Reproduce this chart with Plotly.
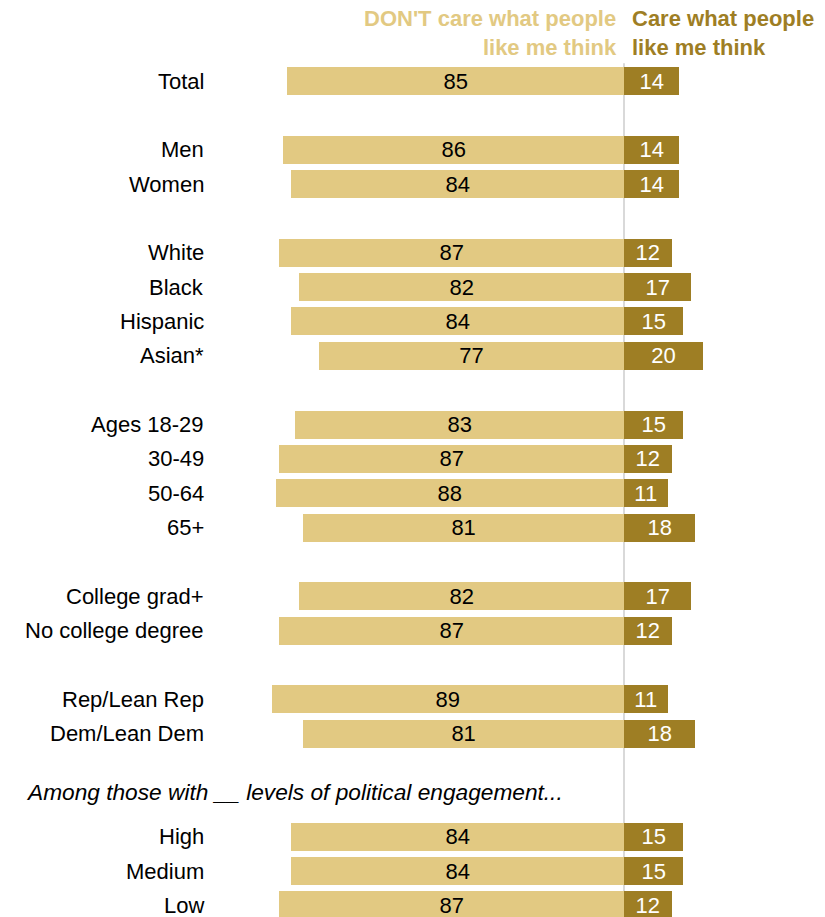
import plotly.graph_objects as go

categories = ["Total", "Men", "Women", "White", "Black", "Hispanic", "Asian*",
              "Ages 18-29", "30-49", "50-64", "65+", "College grad+", "No college degree",
              "Rep/Lean Rep", "Dem/Lean Dem", "High", "Medium", "Low"]
slots = [0, 2, 3, 5, 6, 7, 8, 10, 11, 12, 13, 15, 16, 18, 19, 22, 23, 24]
dont_care = [85, 86, 84, 87, 82, 84, 77, 83, 87, 88, 81, 82, 87, 89, 81, 84, 84, 87]
care = [14, 14, 14, 12, 17, 15, 20, 15, 12, 11, 18, 17, 12, 11, 18, 15, 15, 12]
section_note = "Among those with __ levels of political engagement..."
note_slot = 20.7
header_left = "DON'T care what people<br>like me think"
header_right = "Care what people<br>like me think"

LIGHT = "#E2C982"
DARK = "#9E7E24"
FONT = "Liberation Sans, Arial, sans-serif"
FS = 22
W, H = 825, 917
center_px = 624
px_per_unit = 3.96
row_px = 34.35
top_px = 81

fig = go.Figure()
fig.add_trace(go.Bar(
    y=slots, x=[-v for v in dont_care], orientation="h", width=0.815,
    marker=dict(color=LIGHT, line=dict(width=0)),
    text=[str(v) for v in dont_care], textposition="inside", insidetextanchor="middle",
    textangle=0, constraintext="none",
    textfont=dict(color="black", size=FS, family=FONT), hoverinfo="skip"))
fig.add_trace(go.Bar(
    y=slots, x=care, orientation="h", width=0.815,
    marker=dict(color=DARK, line=dict(width=0)),
    text=[str(v) for v in care], textposition="inside", insidetextanchor="middle",
    textangle=0, constraintext="none",
    textfont=dict(color="white", size=FS, family=FONT), hoverinfo="skip"))

xr = [-center_px / px_per_unit, (W - center_px) / px_per_unit]
yr = [(H - top_px) / row_px, -top_px / row_px]

fig.add_shape(type="line", x0=0, x1=0, y0=-0.52, y1=yr[0], xref="x", yref="y",
              line=dict(color="#CCCCCC", width=1.5), layer="below")

for c, s in zip(categories, slots):
    fig.add_annotation(x=206 / W, y=s, xref="paper", yref="y", text=c, showarrow=False,
                       xanchor="right", yanchor="middle",
                       font=dict(size=FS, color="black", family=FONT))

fig.add_annotation(x=24 / W, y=note_slot, xref="paper", yref="y", text="<i>" + section_note + "</i>",
                   showarrow=False, xanchor="left", yanchor="middle",
                   font=dict(size=22.7, color="black", family=FONT))

fig.add_annotation(x=619 / W, y=-1.39, xref="paper", yref="y", text="<b>" + header_left + "</b>",
                   showarrow=False, xanchor="right", yanchor="middle", align="right",
                   font=dict(size=FS, color=LIGHT, family=FONT))
fig.add_annotation(x=630 / W, y=-1.39, xref="paper", yref="y", text="<b>" + header_right + "</b>",
                   showarrow=False, xanchor="left", yanchor="middle", align="left",
                   font=dict(size=FS, color=DARK, family=FONT))

fig.update_layout(
    width=W, height=H, margin=dict(l=0, r=0, t=0, b=0),
    plot_bgcolor="white", paper_bgcolor="white", barmode="overlay", showlegend=False,
    bargap=0, hovermode=False,
    xaxis=dict(range=xr, visible=False, fixedrange=True),
    yaxis=dict(range=yr, visible=False, fixedrange=True),
)
fig.write_html("out.html", config={"displayModeBar": False, "staticPlot": True},
               post_script="document.body.style.margin='0';document.body.style.overflow='hidden';")
